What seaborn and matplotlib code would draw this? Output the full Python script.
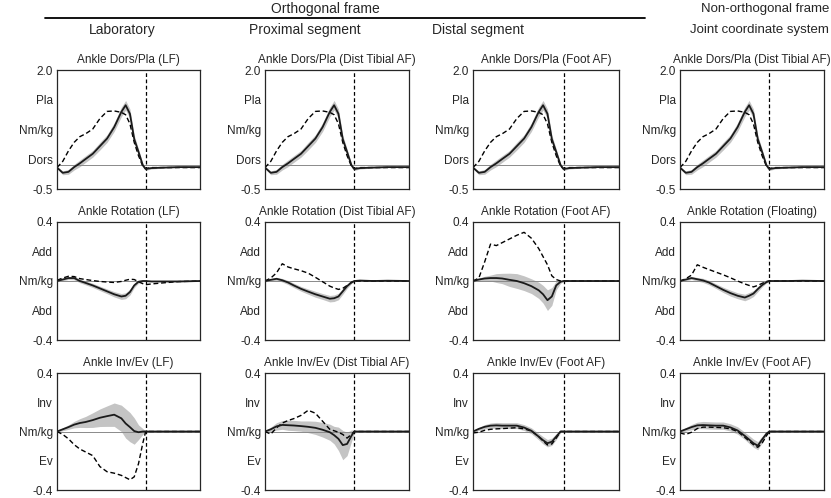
import matplotlib
matplotlib.use("Agg")
import matplotlib.pyplot as plt
from matplotlib.lines import Line2D
import seaborn as sns
import numpy as np

# % of gait cycle at which values were read
gait = [0, 4, 8, 12, 16, 20, 25, 30, 35, 40, 45, 48, 51, 54, 57, 60, 62, 66, 75, 85, 100]
toe_off = 62

# row 1: ankle dorsi/plantar flexion moment (same in all four frames)
dp_mean = [-0.05, -0.16, -0.14, -0.04, 0.04, 0.13, 0.24, 0.40, 0.56, 0.80, 1.12, 1.26, 1.08, 0.55, 0.28, 0.0, -0.08, -0.06, -0.05, -0.04, -0.04]
dp_sd = [0.02, 0.04, 0.05, 0.06, 0.07, 0.07, 0.07, 0.08, 0.08, 0.09, 0.10, 0.10, 0.10, 0.08, 0.06, 0.04, 0.03, 0.02, 0.01, 0.01, 0.01]
dp_dash = [-0.05, 0.08, 0.30, 0.48, 0.60, 0.66, 0.76, 0.98, 1.13, 1.14, 1.11, 1.06, 0.87, 0.48, 0.20, -0.02, -0.07, -0.05, -0.05, -0.05, -0.05]

# row 2: ankle rotation moment
rot_lf_mean = [0, 0.01, 0.02, 0.02, 0.0, -0.013, -0.03, -0.05, -0.07, -0.09, -0.105, -0.1, -0.075, -0.03, -0.005, 0, 0, -0.003, -0.003, -0.003, 0]
rot_lf_sd = [0.005, 0.008, 0.01, 0.012, 0.012, 0.013, 0.014, 0.015, 0.016, 0.018, 0.02, 0.02, 0.02, 0.015, 0.01, 0.005, 0.004, 0.003, 0.003, 0.003, 0.003]
rot_lf_dash = [0.005, 0.02, 0.032, 0.03, 0.016, 0.01, 0.003, -0.003, -0.007, -0.01, -0.003, 0.005, 0.012, 0.01, -0.005, -0.018, -0.025, -0.02, -0.012, -0.004, 0]

rot_prox_mean = [0, 0.008, 0.015, 0.005, -0.01, -0.03, -0.053, -0.072, -0.09, -0.105, -0.12, -0.117, -0.105, -0.07, -0.035, -0.01, 0, 0.003, 0, 0.002, 0]
rot_prox_sd = [0.005, 0.008, 0.01, 0.012, 0.014, 0.015, 0.016, 0.018, 0.02, 0.02, 0.022, 0.022, 0.022, 0.02, 0.015, 0.008, 0.004, 0.003, 0.003, 0.003, 0.003]
rot_prox_dash = [0, 0.02, 0.055, 0.117, 0.095, 0.083, 0.07, 0.053, 0.025, -0.005, -0.035, -0.047, -0.057, -0.05, -0.03, -0.01, 0, 0, 0, 0, 0]

rot_dist_mean = [0, 0.01, 0.017, 0.02, 0.02, 0.017, 0.008, 0, -0.015, -0.035, -0.063, -0.09, -0.13, -0.105, -0.03, -0.005, 0, 0, 0, 0, 0]
rot_dist_sd = [0.005, 0.01, 0.015, 0.02, 0.03, 0.035, 0.045, 0.05, 0.05, 0.05, 0.055, 0.06, 0.07, 0.06, 0.03, 0.01, 0.005, 0.003, 0.003, 0.003, 0.003]
rot_dist_dash = [0, 0.02, 0.13, 0.25, 0.24, 0.26, 0.285, 0.31, 0.33, 0.29, 0.22, 0.165, 0.11, 0.035, 0.01, 0, 0, 0, 0, 0, 0]

rot_jcs_mean = [0, 0.01, 0.02, 0.012, 0.004, -0.01, -0.035, -0.06, -0.082, -0.1, -0.112, -0.1, -0.085, -0.055, -0.028, -0.008, 0, 0, 0, 0.002, 0]
rot_jcs_sd = [0.005, 0.008, 0.01, 0.012, 0.014, 0.015, 0.016, 0.018, 0.02, 0.02, 0.022, 0.022, 0.02, 0.018, 0.012, 0.006, 0.004, 0.003, 0.003, 0.003, 0.003]
rot_jcs_dash = [0, 0.015, 0.04, 0.11, 0.093, 0.078, 0.06, 0.042, 0.022, 0.0, -0.02, -0.03, -0.04, -0.03, -0.016, -0.003, 0, 0, 0, 0, 0]

# row 3: ankle inversion/eversion moment
ie_lf_mean = [0, 0.015, 0.03, 0.047, 0.058, 0.065, 0.078, 0.094, 0.105, 0.115, 0.09, 0.055, 0.03, 0.003, -0.005, 0, 0, 0, 0, 0, 0]
ie_lf_sd = [0.005, 0.01, 0.015, 0.022, 0.03, 0.038, 0.05, 0.06, 0.07, 0.08, 0.09, 0.1, 0.1, 0.09, 0.05, 0.02, 0.005, 0.003, 0.003, 0.003, 0.003]
ie_lf_dash = [0, -0.02, -0.05, -0.09, -0.12, -0.14, -0.165, -0.24, -0.275, -0.285, -0.3, -0.315, -0.33, -0.31, -0.22, -0.08, 0, 0, 0, 0, 0]

ie_prox_mean = [0, 0.015, 0.035, 0.045, 0.043, 0.041, 0.037, 0.032, 0.025, 0.012, -0.005, -0.025, -0.05, -0.093, -0.085, -0.03, 0, 0, 0, 0, 0]
ie_prox_sd = [0.005, 0.015, 0.025, 0.03, 0.035, 0.035, 0.035, 0.04, 0.045, 0.05, 0.055, 0.06, 0.08, 0.1, 0.08, 0.04, 0.01, 0.003, 0.003, 0.003, 0.003]
ie_prox_dash = [0, -0.018, 0.025, 0.058, 0.075, 0.088, 0.11, 0.145, 0.125, 0.07, 0.015, 0.005, -0.005, -0.02, -0.045, -0.02, 0, 0, 0, 0, 0]

ie_dist_mean = [0, 0.018, 0.032, 0.04, 0.042, 0.04, 0.04, 0.04, 0.027, 0.005, -0.035, -0.06, -0.08, -0.07, -0.035, 0, 0, 0, 0, 0, 0]
ie_dist_sd = [0.005, 0.01, 0.015, 0.018, 0.02, 0.02, 0.02, 0.02, 0.02, 0.02, 0.022, 0.025, 0.025, 0.025, 0.02, 0.008, 0.004, 0.003, 0.003, 0.003, 0.003]
ie_dist_dash = [-0.01, -0.005, 0.008, 0.015, 0.018, 0.02, 0.023, 0.026, 0.018, 0.003, -0.035, -0.065, -0.092, -0.085, -0.045, 0, 0, 0, 0, 0, 0]

ie_jcs_mean = [0, 0.015, 0.03, 0.042, 0.044, 0.042, 0.04, 0.04, 0.028, 0.007, -0.03, -0.055, -0.08, -0.097, -0.055, -0.015, 0, 0, 0, 0, 0]
ie_jcs_sd = [0.005, 0.012, 0.018, 0.022, 0.025, 0.025, 0.025, 0.025, 0.025, 0.025, 0.025, 0.027, 0.028, 0.028, 0.022, 0.01, 0.004, 0.003, 0.003, 0.003, 0.003]
ie_jcs_dash = [-0.01, -0.02, -0.005, 0.02, 0.03, 0.03, 0.028, 0.026, 0.018, 0.0, -0.04, -0.065, -0.09, -0.108, -0.08, -0.03, 0, 0, 0, 0, 0]

col_headers = ["Laboratory", "Proximal segment", "Distal segment"]
titles = [
    ["Ankle Dors/Pla (LF)", "Ankle Dors/Pla (Dist Tibial AF)", "Ankle Dors/Pla (Foot AF)", "Ankle Dors/Pla (Dist Tibial AF)"],
    ["Ankle Rotation (LF)", "Ankle Rotation (Dist Tibial AF)", "Ankle Rotation (Foot AF)", "Ankle Rotation (Floating)"],
    ["Ankle Inv/Ev (LF)", "Ankle Inv/Ev (Dist Tibial AF)", "Ankle Inv/Ev (Foot AF)", "Ankle Inv/Ev (Foot AF)"],
]
row_ticks = [[2.0, 1.375, 0.75, 0.125, -0.5], [0.4, 0.2, 0, -0.2, -0.4], [0.4, 0.2, 0, -0.2, -0.4]]
row_labels = [["2.0", "Pla", "Nm/kg", "Dors", "-0.5"],
              ["0.4", "Add", "Nm/kg", "Abd", "-0.4"],
              ["0.4", "Inv", "Nm/kg", "Ev", "-0.4"]]

panels = [
    [(dp_mean, dp_sd, dp_dash)] * 4,
    [(rot_lf_mean, rot_lf_sd, rot_lf_dash), (rot_prox_mean, rot_prox_sd, rot_prox_dash),
     (rot_dist_mean, rot_dist_sd, rot_dist_dash), (rot_jcs_mean, rot_jcs_sd, rot_jcs_dash)],
    [(ie_lf_mean, ie_lf_sd, ie_lf_dash), (ie_prox_mean, ie_prox_sd, ie_prox_dash),
     (ie_dist_mean, ie_dist_sd, ie_dist_dash), (ie_jcs_mean, ie_jcs_sd, ie_jcs_dash)],
]

sns.set_style("ticks")
plt.rcParams["font.family"] = ["Liberation Sans", "DejaVu Sans"]

W, H = 831, 498
fig = plt.figure(figsize=(W / 100, H / 100), dpi=100)

col_px = [(57, 200), (265, 409), (473, 619), (680, 824)]
row_px = [(70, 189), (222, 340), (373, 490)]

for r, (top, bot) in enumerate(row_px):
    for c, (left, right) in enumerate(col_px):
        ax = fig.add_axes([left / W, 1 - bot / H, (right - left) / W, (bot - top) / H])
        mean, sd, dash = [np.array(v) for v in panels[r][c]]
        ax.fill_between(gait, mean - sd, mean + sd, color="#c4c4c4", lw=0)
        ax.axhline(0, color="#8a8a8a", lw=0.7)
        ax.axvline(toe_off, color="black", lw=0.9, ls=(0, (3, 2)))
        sns.lineplot(x=gait, y=dash, ax=ax, color="black", lw=1.0, ls=(0, (3.5, 2)))
        sns.lineplot(x=gait, y=mean, ax=ax, color="#1a1a1a", lw=1.3)
        ax.set_xlim(0, 100)
        ax.set_ylim(row_ticks[r][-1], row_ticks[r][0])
        ax.set_xticks([])
        ax.set_yticks(row_ticks[r])
        ax.set_yticklabels(row_labels[r])
        ax.tick_params(axis="y", length=0, pad=3, labelsize=8.5)
        for s in ax.spines.values():
            s.set_linewidth(0.9)
        ax.set_title(titles[r][c], fontsize=8.5, pad=5)

# frame headers
fig.text(325 / W, 1 - 9 / H, "Orthogonal frame", ha="center", va="center", fontsize=10)
fig.text(829 / W, 1 - 9 / H, "Non-orthogonal frame", ha="right", va="center", fontsize=9.5)
fig.add_artist(Line2D([45 / W, 645 / W], [1 - 18 / H, 1 - 18 / H], color="black", lw=1.3))
for x, lab in zip([122, 305, 478], col_headers):
    fig.text(x / W, 1 - 30 / H, lab, ha="center", va="center", fontsize=10)
fig.text(829 / W, 1 - 30 / H, "Joint coordinate system", ha="right", va="center", fontsize=9.5)

fig.savefig("out.png", dpi=100)
